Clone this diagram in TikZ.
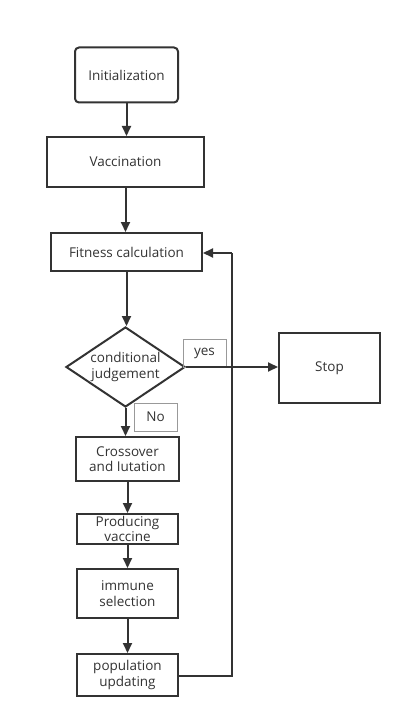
\documentclass[tikz,border=0pt]{standalone}
\usepackage{fontspec}
\setmainfont{Open Sans}
\usetikzlibrary{shapes.geometric,arrows.meta}
\definecolor{ink}{HTML}{333333}
\definecolor{tagline}{HTML}{999999}
\tikzset{
  txt/.style={text=ink, font=\fontsize{13.5}{15.5}\selectfont},
  box/.style={draw=ink, line width=2pt, inner sep=0pt, align=center, txt},
  decision/.style={diamond, draw=ink, line width=2pt, inner sep=0pt, aspect=1.5, align=center, txt},
  tag/.style={draw=tagline, line width=0.8pt, inner sep=0pt, txt},
  flow/.style={draw=ink, line width=2pt, -{Triangle[length=10pt,width=9pt]}},
  plain/.style={draw=ink, line width=2pt}
}
\begin{document}
\begin{tikzpicture}[x=1pt,y=-1pt]
\useasboundingbox[fill=white] (0,0) rectangle (412,727);
\node[box, rounded corners=4pt, minimum width=103pt, minimum height=55pt] (init) at (126.5,75) {Initialization};
\node[box, minimum width=157pt, minimum height=50pt] (vacc) at (125.5,162) {Vaccination};
\node[box, minimum width=151pt, minimum height=38pt] (fit) at (126.5,252) {Fitness calculation};
\node[decision, minimum width=119pt, minimum height=80pt] (cond) at (125.5,367) {conditional\\judgement};
\node[box, minimum width=101pt, minimum height=70pt] (stop) at (329.5,368) {Stop};
\node[tag, minimum width=43pt, minimum height=28pt] (yes) at (204.5,353) {yes};
\node[tag, minimum width=43pt, minimum height=28pt] (no) at (155.5,417) {No};
\node[box, minimum width=103pt, minimum height=44pt] (cross) at (127.5,459) {Crossover\\and Iutation};
\node[box, minimum width=101pt, minimum height=30pt] (prod) at (127.5,529) {Producing\\vaccine};
\node[box, minimum width=101pt, minimum height=49pt] (imm) at (127.5,593.5) {immune\\selection};
\node[box, minimum width=101pt, minimum height=42pt] (pop) at (127.5,675) {population\\updating};
\coordinate (c1) at (232,676);
\coordinate (c2) at (232,253);
\draw[flow] (init.south) -- (vacc.north -| init.south);
\draw[flow] (vacc.south) -- (fit.north -| vacc.south);
\draw[flow] (fit.south) -- (cond.north -| fit.south);
\draw[flow] (cond.east) -- (stop.west |- cond.east);
\draw[flow] (cond.south) -- (cross.north -| cond.south);
\draw[flow] (cross.south) -- (prod.north);
\draw[flow] (prod.south) -- (imm.north);
\draw[flow] (imm.south) -- (pop.north);
\draw[plain] (pop.east |- c1) -- (c1) -- (c2);
\draw[flow] (c2) -- (fit.east |- c2);
\end{tikzpicture}
\end{document}
